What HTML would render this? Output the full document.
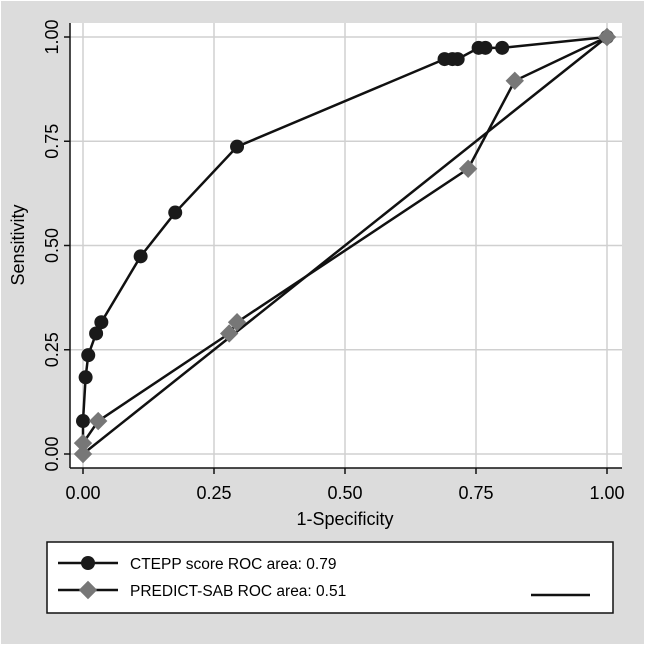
<!DOCTYPE html>
<html><head><meta charset="utf-8"><style>
body{margin:0;background:#fff}
svg{display:block;font-family:"Liberation Sans",Arial,sans-serif}
</style></head><body>
<svg id="chart" width="645" height="645">
<rect x="1" y="1" width="643" height="643" fill="#dcdcdc"/>
<rect x="70" y="23" width="552" height="445" fill="#fff"/>
<g id="grid"></g><g id="axes"></g><g id="series"></g>
<text x="345" y="525" font-size="18" text-anchor="middle">1-Specificity</text>
<text transform="translate(24,245) rotate(-90)" font-size="18" text-anchor="middle">Sensitivity</text>
<g>
<rect x="47" y="542" width="566" height="71" fill="#fff" stroke="#111" stroke-width="1.5"/>
<g>
<line x1="58" y1="563" x2="118" y2="563" stroke="#111" stroke-width="2.5"/>
<circle cx="88" cy="563" r="7" fill="#1a1a1a"/>
<text x="130" y="569" font-size="15.5">CTEPP score ROC area: 0.79</text></g>
<g>
<line x1="58" y1="590" x2="118" y2="590" stroke="#111" stroke-width="2.5"/>
<rect x="81.5" y="583.5" width="13" height="13" fill="#777" transform="rotate(45 88 590)"/>
<text x="130" y="596" font-size="15.5">PREDICT-SAB ROC area: 0.51</text></g>
<line x1="531" y1="595" x2="590" y2="595" stroke="#111" stroke-width="2.5"/>
</g>
</svg>
<script>
const ticks=[0,0.25,0.5,0.75,1];
const tickLabels=["0.00","0.25","0.50","0.75","1.00"];
const ctX=[0,0,0,0.005,0.01,0.025,0.035,0.11,0.176,0.294,0.69,0.705,0.715,0.755,0.768,0.80,1];
const ctY=[0,0.026,0.079,0.184,0.237,0.289,0.316,0.474,0.579,0.737,0.947,0.947,0.947,0.974,0.974,0.974,1];
const prX=[0,0,0.029,0.279,0.294,0.735,0.824,1];
const prY=[0,0.026,0.079,0.289,0.316,0.684,0.895,1];
const refX=[0,1], refY=[0,1];
const sx=v=>83+v*524, sy=v=>454-v*417;
const NS="http://www.w3.org/2000/svg";
function mk(t,a,p){const e=document.createElementNS(NS,t);for(const k in a)e.setAttribute(k,a[k]);p.appendChild(e);return e;}
const G=document.getElementById('grid'),A=document.getElementById('axes'),S=document.getElementById('series');
ticks.forEach((t,i)=>{
 let g=mk('line',{x1:sx(t),x2:sx(t),y1:23,y2:468,stroke:'#d0d0d0','stroke-width':1.5},G);
 
 
 g=mk('line',{x1:70,x2:622,y1:sy(t),y2:sy(t),stroke:'#d0d0d0','stroke-width':1.5},G);
 
 
 let k=mk('line',{x1:sx(t),x2:sx(t),y1:468,y2:474,stroke:'#111','stroke-width':1.5},A);
 
 
 k=mk('line',{x1:64,x2:70,y1:sy(t),y2:sy(t),stroke:'#111','stroke-width':1.5},A);
 
 
 let tx=mk('text',{x:sx(t),y:499,'font-size':18,'text-anchor':'middle'},A);tx.textContent=tickLabels[i];
 
 
 tx=mk('text',{transform:`translate(58,${sy(t)}) rotate(-90)`,'font-size':18,'text-anchor':'middle'},A);tx.textContent=tickLabels[i];
 
 
});
let ax=mk('line',{x1:70,x2:70,y1:23,y2:468,stroke:'#111','stroke-width':1.5},A);


ax=mk('line',{x1:70,x2:622,y1:468,y2:468,stroke:'#111','stroke-width':1.5},A);


const pts=(X,Y)=>X.map((x,i)=>sx(x)+','+sy(Y[i])).join(' ');
let l=mk('polyline',{points:pts(refX,refY),fill:'none',stroke:'#111','stroke-width':2.5},S);


l=mk('polyline',{points:pts(prX,prY),fill:'none',stroke:'#111','stroke-width':2.5},S);


l=mk('polyline',{points:pts(ctX,ctY),fill:'none',stroke:'#111','stroke-width':2.5},S);


ctX.forEach((x,i)=>{if(i<2)return;
 const c=mk('circle',{cx:sx(x),cy:sy(ctY[i]),r:7,fill:'#1a1a1a'},S);
 
 
});
prX.forEach((x,i)=>{const cx=sx(x),cy=sy(prY[i]);
 const d=mk('rect',{x:cx-6.5,y:cy-6.5,width:13,height:13,fill:'#777',transform:`rotate(45 ${cx} ${cy})`},S);
 
 
});
</script>
</body></html>
